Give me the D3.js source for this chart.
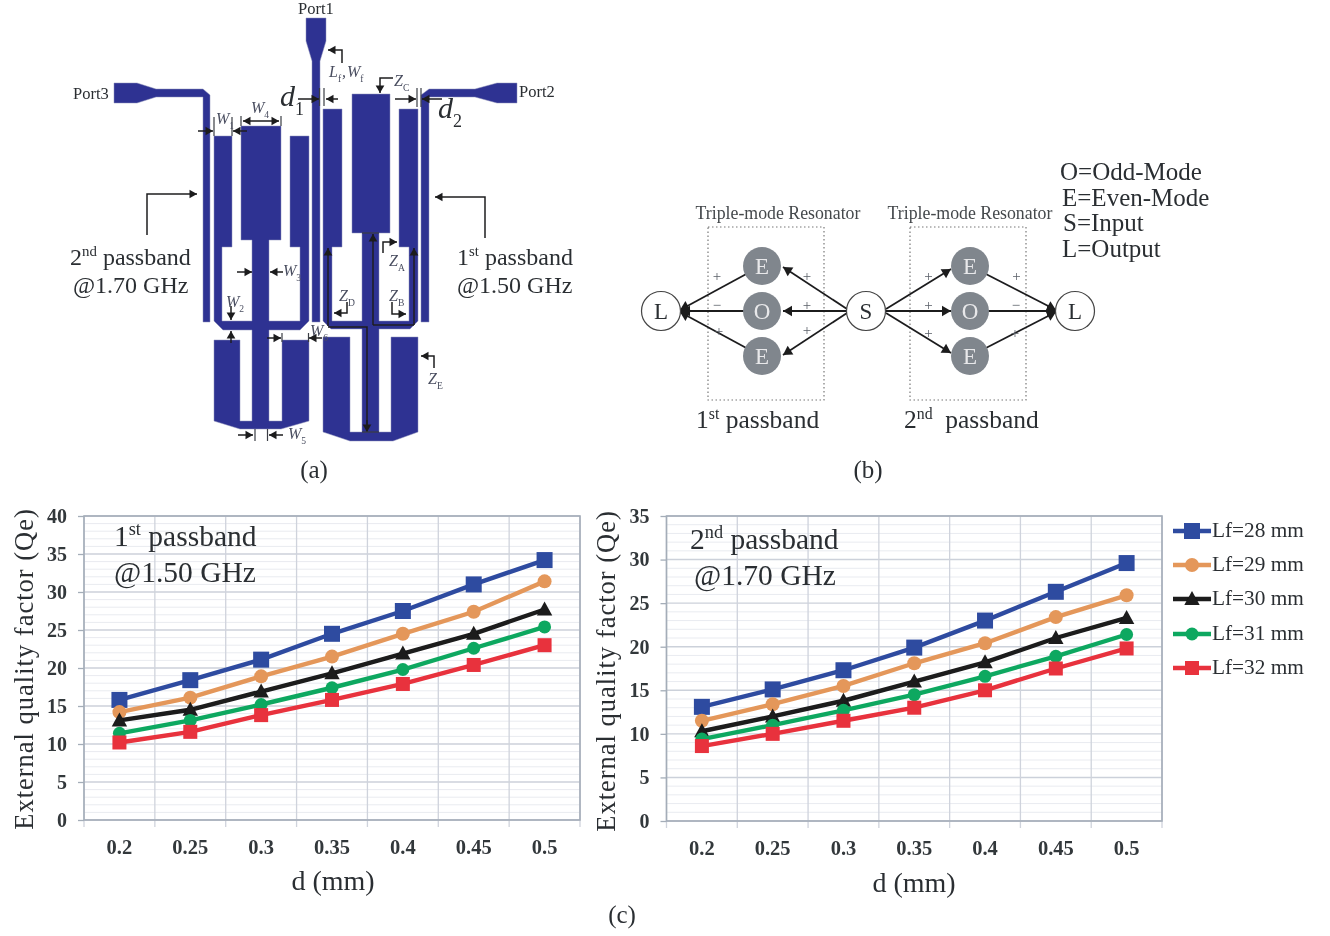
<!DOCTYPE html>
<html><head><meta charset="utf-8">
<script src="https://cdn.jsdelivr.net/npm/d3@7"></script>
<style>html,body{margin:0;padding:0;background:#fff}svg{display:block}text{font-family:"Liberation Serif",serif;fill:#2b2f33;white-space:pre}</style>
</head><body><svg id="c" width="1330" height="936"></svg>
<script>
// ---------- chart data ----------
const dValues = ["0.2","0.25","0.3","0.35","0.4","0.45","0.5"];
const seriesNames = ["Lf=28 mm","Lf=29 mm","Lf=30 mm","Lf=31 mm","Lf=32 mm"];
const seriesColors = ["#2f4ba0","#e4975a","#1a1a1a","#10a860","#e8303c"];
const seriesShapes = ["square","circle","triangle","circle","square"];
const first28 = [15.8,18.4,21.1,24.5,27.5,31.0,34.2];
const first29 = [14.2,16.1,18.9,21.5,24.5,27.4,31.4];
const first30 = [13.1,14.5,16.9,19.3,21.9,24.5,27.7];
const first31 = [11.4,13.1,15.2,17.4,19.8,22.6,25.4];
const first32 = [10.2,11.6,13.8,15.8,17.9,20.4,23.0];
const second28 = [13.1,15.1,17.3,19.9,23.0,26.3,29.6];
const second29 = [11.5,13.4,15.5,18.1,20.4,23.4,25.9];
const second30 = [10.3,12.0,13.8,16.0,18.2,21.0,23.3];
const second31 = [9.4,11.0,12.7,14.5,16.6,18.9,21.4];
const second32 = [8.6,10.0,11.5,13.0,15.0,17.5,19.8];
const firstSeries = [first28,first29,first30,first31,first32];
const secondSeries = [second28,second29,second30,second31,second32];
const firstTicks = [0,5,10,15,20,25,30,35,40];
const secondTicks = [0,5,10,15,20,25,30,35];

const svg = d3.select("#c");
const defs = svg.append("defs");
defs.append("filter").attr("id","soft").attr("x",0).attr("y",0).attr("width","100%").attr("height","100%")
  .append("feGaussianBlur").attr("stdDeviation",0.5);
const root = svg.append("g").attr("filter","url(#soft)");
root.append("rect").attr("width",1330).attr("height",936).attr("fill","#fff");

function text(g,x,y,str,size,opt={}){
  const t=g.append("text").attr("x",x).attr("y",y).attr("font-size",size)
    .attr("text-anchor",opt.anchor||"start");
  if(opt.weight)t.attr("font-weight",opt.weight);
  if(opt.italic)t.attr("font-style","italic");
  if(opt.fill)t.style("fill",opt.fill);
  if(opt.spacing)t.attr("letter-spacing",opt.spacing);
  if(opt.rotate!==undefined)t.attr("transform",`rotate(${opt.rotate} ${x} ${y})`);
  if(opt.sup){ // [before, sup, after]
    t.append("tspan").text(opt.sup[0]);
    t.append("tspan").attr("font-size",size*0.62).attr("dy",-size*0.36).text(opt.sup[1]);
    t.append("tspan").attr("dy",size*0.36).text(opt.sup[2]);
  } else t.text(str);
  return t;
}
function marker(g,shape,cx,cy,color,size){
  if(shape==="square")g.append("rect").attr("x",cx-size).attr("y",cy-size).attr("width",2*size).attr("height",2*size).attr("fill",color);
  else if(shape==="circle")g.append("circle").attr("cx",cx).attr("cy",cy).attr("r",size).attr("fill",color);
  else g.append("path").attr("d",`M${cx},${cy-size*1.15}L${cx+size*1.1},${cy+size*0.85}L${cx-size*1.1},${cy+size*0.85}Z`).attr("fill",color);
}
const markerSizes=[8,7,7,6.5,7];

function lineChart(cfg){
  const g=root.append("g");
  const x=d3.scaleBand().domain(dValues).range([cfg.left,cfg.right]);
  const y=d3.scaleLinear().domain([0,cfg.max]).range([cfg.bottom,cfg.top]);
  const gridG=g.append("g");
  d3.range(0,cfg.max+1).filter(v=>v%5).forEach(v=>{
    gridG.append("line").attr("x1",cfg.left).attr("x2",cfg.right).attr("y1",y(v)).attr("y2",y(v)).attr("stroke","#e9ebf0").attr("stroke-width",1);
  });
  cfg.ticks.forEach(v=>{
    gridG.append("line").attr("x1",cfg.left).attr("x2",cfg.right).attr("y1",y(v)).attr("y2",y(v)).attr("stroke","#ccd1da").attr("stroke-width",1.4);
  });
  d3.range(dValues.length+1).forEach(i=>{
    const px=cfg.left+i*x.step();
    gridG.append("line").attr("x1",px).attr("x2",px).attr("y1",cfg.top).attr("y2",cfg.bottom+7).attr("stroke","#cfd3dc").attr("stroke-width",1.3);
  });
  g.append("rect").attr("x",cfg.left).attr("y",cfg.top).attr("width",cfg.right-cfg.left).attr("height",cfg.bottom-cfg.top)
    .attr("fill","none").attr("stroke","#a4adb8").attr("stroke-width",1.6);
  const ya=g.append("g").attr("transform",`translate(${cfg.left},0)`)
    .call(d3.axisLeft(y).tickValues(cfg.ticks).tickSize(6).tickPadding(11));
  ya.select(".domain").remove();
  ya.selectAll("line").attr("stroke","#a4adb8").attr("stroke-width",1.3);
  ya.selectAll("text").attr("font-size",20).attr("font-weight","bold").style("font-family","Liberation Serif").style("fill","#33373b");
  const xa=g.append("g").attr("transform",`translate(0,${cfg.bottom})`)
    .call(d3.axisBottom(x).tickSize(0).tickPadding(19));
  xa.select(".domain").remove();
  xa.selectAll("text").attr("font-size",20.5).attr("font-weight","bold").style("font-family","Liberation Serif").style("fill","#33373b");
  const line=d3.line().x((d,i)=>x(dValues[i])+x.bandwidth()/2).y(d=>y(d));
  cfg.series.forEach((vals,s)=>{
    g.append("path").datum(vals).attr("d",line).attr("fill","none").attr("stroke",seriesColors[s]).attr("stroke-width",4.4);
    vals.forEach((v,i)=>marker(g,seriesShapes[s],x(dValues[i])+x.bandwidth()/2,y(v),seriesColors[s],markerSizes[s]));
  });
  text(g,cfg.titleX,cfg.titleY,"External quality factor (Qe)",26.5,{anchor:"middle",rotate:-90,spacing:1.0});
  text(g,cfg.xTitleX,cfg.xTitleY,"d (mm)",28,{anchor:"middle"});
  text(g,cfg.noteX,cfg.noteY,"",29.5,{sup:cfg.noteSup});
  text(g,cfg.note2X,cfg.noteY+36,cfg.note2,29.5);
}
lineChart({left:84,right:580,top:516,bottom:820,max:40,ticks:firstTicks,series:firstSeries,
  titleX:33,titleY:669,xTitleX:333,xTitleY:890,noteX:114,noteY:546,note2X:114,note2:"@1.50 GHz",noteSup:["1","st"," passband"]});
lineChart({left:666.5,right:1162,top:516,bottom:821,max:35,ticks:secondTicks,series:secondSeries,
  titleX:615,titleY:671,xTitleX:914,xTitleY:892,noteX:690,noteY:549,note2X:694,note2:"@1.70 GHz",noteSup:["2","nd"," passband"]});

// legend
const legendYs=[531,565,599,634,668];
seriesNames.forEach((n,i)=>{
  root.append("line").attr("x1",1173).attr("x2",1211).attr("y1",legendYs[i]).attr("y2",legendYs[i]).attr("stroke",seriesColors[i]).attr("stroke-width",4.4);
  marker(root,seriesShapes[i],1192,legendYs[i],seriesColors[i],markerSizes[i]);
  text(root,1212,legendYs[i]+6,n,21.3);
});
text(root,622,923,"(c)",25,{anchor:"middle"});

// ---------- panel (a): layout schematic ----------
const NAVY="#2e3192";
const A=root.append("g");
const layoutPolys=[
 // Port 1 feed
 [[306,18],[326,18],[326,41],[320,61],[320,322],[312,322],[312,61],[306,41]],
 // Port 3 feed
 [[114,83],[137,83],[156,89],[203,89],[210,95],[210,322],[203,322],[203,97],[156,97],[137,103],[114,103]],
 // Port 2 feed
 [[517,83],[497,83],[475,89],[429,89],[421,95],[421,322],[429,322],[429,97],[475,97],[497,103],[517,103]],
 // 2nd passband resonator
 [[214,136],[232,136],[232,247],[222,247],[222,321],[252,321],[252,240],[241,240],[241,126],[281,126],[281,240],[269,240],[269,321],[300,321],[300,247],[290,247],[290,136],[309,136],[309,321],[300,330],[269,330],[269,421],[282,421],[282,340],[309,340],[309,421],[281,429],[240,429],[214,421],[214,340],[240,340],[240,421],[252,421],[252,330],[223,330],[214,321]],
 // 1st passband resonator
 [[323,109],[342,109],[342,247],[332,247],[332,321],[362,321],[362,233],[352,233],[352,94],[390,94],[390,233],[379,233],[379,321],[409,321],[409,247],[399,247],[399,109],[418,109],[418,321],[410,329],[379,329],[379,432],[391,432],[391,337],[418,337],[418,432],[393,441],[350,441],[323,432],[323,337],[350,337],[350,432],[362,432],[362,329],[331,329],[323,321]]
];
layoutPolys.forEach(p=>A.append("path").attr("d",d3.line()(p)+"Z").attr("fill",NAVY).attr("stroke","#8d90b8").attr("stroke-width",0.5));

function arrow(g,pts,color="#1d1d1f",w=1.5,h=7.5,both=false){
  g.append("path").attr("d",d3.line()(pts)).attr("fill","none").attr("stroke",color).attr("stroke-width",w);
  const head=(a,b)=>{
    const ang=Math.atan2(b[1]-a[1],b[0]-a[0]),c=Math.cos(ang),s=Math.sin(ang),hw=h*0.58;
    g.append("path").attr("d",`M${b[0]},${b[1]}L${b[0]-h*c+hw*s},${b[1]-h*s-hw*c}L${b[0]-h*c-hw*s},${b[1]-h*s+hw*c}Z`).attr("fill",color);
  };
  head(pts[pts.length-2],pts[pts.length-1]);
  if(both)head(pts[1],pts[0]);
}
function tick(g,x1,y1,x2,y2,color="#3a3d44"){g.append("line").attr("x1",x1).attr("y1",y1).attr("x2",x2).attr("y2",y2).attr("stroke",color).attr("stroke-width",1.2);}
function subLabel(g,x,y,main,sub,size=16,fill="#4a4e60"){
  const t=g.append("text").attr("x",x).attr("y",y).attr("font-size",size).attr("font-style","italic").style("fill",fill);
  t.append("tspan").text(main);
  t.append("tspan").attr("font-size",size*0.6).attr("font-style","normal").attr("dy",size*0.3).text(sub);
}
const arrowPaths=[
 [[198,131],[213,131]],[[247,131],[233,131]],
 [[298,99],[319,99]],[[338,99],[326,99]],
 [[342,63],[342,50],[328,50]],[[393,78],[380,78],[380,93]],
 [[395,99],[416,99]],[[442,99],[422,99]],
 [[147,235],[147,194],[197,194]],[[485,238],[485,197],[435,197]],
 [[237,272],[252,272]],[[283,272],[270,272]],
 [[231,306],[231,320]],[[231,343],[231,331]],
 [[267,338],[281,338]],[[322,338],[309,338]],
 [[238,435],[253,435]],[[283,435],[269,435]],
 [[383,253],[383,242],[397,242]],[[347,302],[347,313],[334,313]],
 [[392,302],[392,314],[406,314]],[[434,368],[434,356],[421,356]],
 [[328,326],[328,248]],[[414,325],[414,248]],[[373,325],[373,234]]
];
arrowPaths.forEach(p=>arrow(A,p));
arrow(A,[[243,121],[279,121]],"#1d1d1f",1.5,7.5,true);
A.append("path").attr("d",d3.line()([[328,327],[367,327],[367,425]])).attr("fill","none").attr("stroke","#1d1d1f").attr("stroke-width",1.5);
arrow(A,[[367,420],[367,432]]);
A.append("path").attr("d",d3.line()([[373,325],[414,325]])).attr("fill","none").attr("stroke","#1d1d1f").attr("stroke-width",1.5);
const tickLines=[[214,117,214,136],[232,117,232,136],[241,116,241,126],[281,116,281,126],
 [319.5,88,319.5,106],[324,88,324,106],[417,88,417,107],[421,88,421,107],
 [282,333,282,342],[308.5,333,308.5,342],[255,429,255,441],[267.5,429,267.5,441],
 [362,233,379,233],[362,432,379,432]];
tickLines.forEach(t=>tick(A,...t));
text(A,298,14,"Port1",16.5);
text(A,73,99,"Port3",16.5);
text(A,519,97,"Port2",16.5);
subLabel(A,216,124,"W","1");
subLabel(A,251,113,"W","4");
subLabel(A,283,276,"W","3");
subLabel(A,226,307,"W","2");
subLabel(A,310,336,"W","6");
subLabel(A,288,439,"W","5");
subLabel(A,329,77,"L","f");
text(A,342,77,",",16,{italic:true,fill:"#4a4e60"});
subLabel(A,347,77,"W","f");
subLabel(A,394,86,"Z","C");
subLabel(A,389,266,"Z","A");
subLabel(A,339,301,"Z","D");
subLabel(A,389,301,"Z","B");
subLabel(A,428,384,"Z","E");
subLabel(A,280,106,"d","1",30,"#2b2f33");
subLabel(A,438,118,"d","2",30,"#2b2f33");
text(A,70,265,"",24,{sup:["2","nd"," passband"]});
text(A,73,293,"@1.70 GHz",24);
text(A,457,265,"",24,{sup:["1","st"," passband"]});
text(A,457,293,"@1.50 GHz",24);
text(A,314,478,"(a)",25,{anchor:"middle"});

// ---------- panel (b): coupling diagram ----------
const B=root.append("g");
const dotBoxes=[[708,227,116,173],[910,227,116,173]];
dotBoxes.forEach(b=>B.append("rect").attr("x",b[0]).attr("y",b[1]).attr("width",b[2]).attr("height",b[3]).attr("fill","none").attr("stroke","#777").attr("stroke-width",1.2).attr("stroke-dasharray","1.5 2.5"));
const nodeEdges=[
 [[750,272],[680,310]],[[750,311],[681,311]],[[750,350],[680,312]],
 [[847,309],[783,267]],[[847,311],[783,311]],[[847,313],[783,355]],
 [[886,309],[951,269]],[[886,311],[951,311]],[[886,313],[951,353]],
 [[982,272],[1056,310]],[[982,311],[1056,311]],[[982,350],[1056,312]]
];
nodeEdges.forEach(p=>arrow(B,p,"#1d1d1f",1.8,9));
const nodes=[[661,311,"L",0],[866,311,"S",0],[1075,311,"L",0],[762,266,"E",1],[762,311,"O",1],[762,356,"E",1],[970,266,"E",1],[970,311,"O",1],[970,356,"E",1]];
nodes.forEach(n=>{
  B.append("circle").attr("cx",n[0]).attr("cy",n[1]).attr("r",n[3]?19:19.5).attr("fill",n[3]?"#80868d":"#fff").attr("stroke",n[3]?"none":"#444").attr("stroke-width",1.2);
  text(B,n[0],n[1]+8,n[2],23,{anchor:"middle",fill:n[3]?"#e8e8ea":"#2b2f33"});
});
const signs=[[717,281,"+"],[807,281,"+"],[717,310,"−"],[807,310,"+"],[719,336,"+"],[807,335,"+"],[928.5,281,"+"],[928.5,310,"+"],[928.5,338,"+"],[1016.5,281,"+"],[1016,310,"−"],[1015,338,"+"]];
signs.forEach(s=>text(B,s[0],s[1],s[2],15,{anchor:"middle",fill:"#5a6068"}));
text(B,778,219,"Triple-mode Resonator",17.8,{anchor:"middle",fill:"#44484c"});
text(B,970,219,"Triple-mode Resonator",17.8,{anchor:"middle",fill:"#44484c"});
text(B,1060,180,"O=Odd-Mode",25);
text(B,1062,206,"E=Even-Mode",25);
text(B,1063,231,"S=Input",25);
text(B,1062,257,"L=Output",25);
text(B,696,428,"",25.5,{sup:["1","st"," passband"]});
text(B,904,428,"",25.5,{sup:["2","nd","  passband"]});
text(B,868,478,"(b)",25,{anchor:"middle"});
</script></body></html>
